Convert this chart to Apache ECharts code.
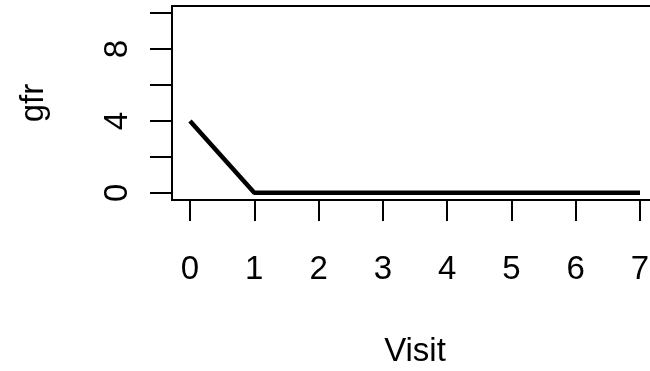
<!DOCTYPE html>
<html>
<head>
<meta charset="utf-8">
<script src="https://cdn.jsdelivr.net/npm/echarts@6/dist/echarts.min.js"></script>
<style>
  html, body { margin: 0; padding: 0; background: #fff; }
  #chart { width: 650px; height: 371px; }
</style>
</head>
<body>
<div id="chart"></div>
<script>
// gfr measured at each visit
const visits = [0, 1, 2, 3, 4, 5, 6, 7];
const gfr = [4, 0, 0, 0, 0, 0, 0, 0];

// axis ticks and labels
const xTicks = [0, 1, 2, 3, 4, 5, 6, 7];
const yTicks = [0, 2, 4, 6, 8, 10];
const yLabels = [0, 4, 8];

// plot limits padded by 4% on each side
const xLim = [0, 7];
const yLim = [0, 10];
const pad = (lim) => [lim[0] - (lim[1] - lim[0]) * 0.04, lim[1] + (lim[1] - lim[0]) * 0.04];
const xRange = pad(xLim);
const yRange = pad(yLim);

const font = 'Liberation Sans, Arial, sans-serif';
const chart = echarts.init(document.getElementById('chart'), null, { renderer: 'canvas' });

chart.setOption({
  animation: false,
  backgroundColor: '#ffffff',
  grid: {
    left: 172, top: 6, width: 486, height: 194,
    containLabel: false,
    outerBoundsMode: 'none',
    show: true, borderColor: '#000', borderWidth: 2, backgroundColor: 'transparent'
  },
  xAxis: {
    type: 'value',
    min: xRange[0], max: xRange[1],
    name: 'Visit',
    nameLocation: 'middle',
    nameGap: 135,
    nameTextStyle: { fontFamily: font, fontSize: 33, color: '#000' },
    axisLine: { show: false, onZero: false },
    splitLine: { show: false },
    axisTick: { show: true, inside: false, length: 21, customValues: xTicks, lineStyle: { color: '#000', width: 2 } },
    axisLabel: { customValues: xTicks, margin: 53, fontFamily: font, fontSize: 33, color: '#000' }
  },
  yAxis: {
    type: 'value',
    min: yRange[0], max: yRange[1],
    name: 'gfr',
    nameLocation: 'middle',
    nameGap: 122,
    nameTextStyle: { fontFamily: font, fontSize: 33, color: '#000' },
    axisLine: { show: false, onZero: false },
    splitLine: { show: false },
    axisTick: { show: true, inside: false, length: 22, customValues: yTicks, lineStyle: { color: '#000', width: 2 } },
    axisLabel: { customValues: yLabels, rotate: 90, margin: 38, fontFamily: font, fontSize: 33, color: '#000' }
  },
  series: [{
    type: 'line',
    data: visits.map((v, i) => [v, gfr[i]]),
    showSymbol: false,
    symbol: 'none',
    lineStyle: { color: '#000', width: 4.5 },
    itemStyle: { color: '#000' }
  }]
});
</script>
</body>
</html>
